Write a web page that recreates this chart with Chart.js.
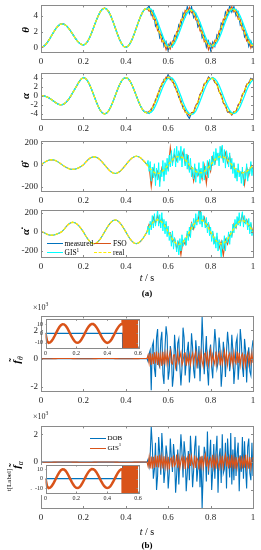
<!DOCTYPE html>
<html>
<head>
<meta charset="utf-8">
<script src="https://cdn.jsdelivr.net/npm/chart.js"></script>
<style>
  body { margin: 0; background: #fff; width: 261px; height: 550px; position: relative; overflow: hidden;
         font-family: "Liberation Serif", "DejaVu Serif", serif; color: #000; }
  canvas { position: absolute; left: 0; }
  .t { position: absolute; white-space: nowrap; line-height: 1; }
  .yl { transform: translate(-50%, -50%) rotate(-90deg); font-size: 11px; font-style: italic; }
  .c { transform: translate(-50%, -50%); }
  .lg { transform: translateY(-50%); font-size: 7.5px; }
  .ln { position: absolute; height: 0; }
  sub, sup { font-size: 70%; line-height: 0; }
</style>
</head>
<body>
<canvas id="p1"></canvas>
<canvas id="p2"></canvas>
<canvas id="p3"></canvas>
<canvas id="p4"></canvas>
<canvas id="p5"></canvas>
<canvas id="p6"></canvas>
<canvas id="p5i"></canvas>
<canvas id="p6i"></canvas>

<div class="t yl" style="left:25px;top:30px"><b>θ</b></div>
<div class="t yl" style="left:25px;top:96px"><b>α</b></div>
<div class="t yl" style="left:25px;top:165px"><b>θ̇</b></div>
<div class="t yl" style="left:25px;top:232px"><b>α̇</b></div>
<div class="t yl" style="left:16px;top:360px"><b>f̃</b><sub>θ</sub></div>
<div class="t yl" style="left:16px;top:465px"><b>f̃</b><sub>α</sub></div>
<div class="t yl" style="left:9px;top:480px;font-size:7px;font-style:normal">t[Label]</div>

<div class="ln" style="left:47px;top:243px;width:16px;border-top:1.4px solid #0072BD"></div>
<div class="t lg" style="left:64.5px;top:243.5px">measured</div>
<div class="ln" style="left:94px;top:243px;width:17px;border-top:1.4px solid #D95319"></div>
<div class="t lg" style="left:113px;top:243.5px">FSO</div>
<div class="ln" style="left:47px;top:252px;width:16px;border-top:1.4px solid #00FFFF"></div>
<div class="t lg" style="left:64.5px;top:252.5px">GIS<sup>1</sup></div>
<div class="ln" style="left:94px;top:252px;width:17px;border-top:1.4px dashed #FFEE00"></div>
<div class="t lg" style="left:113px;top:252.5px">real</div>

<div class="ln" style="left:90px;top:437.5px;width:16px;border-top:1.5px solid #0072BD"></div>
<div class="t lg" style="left:107.5px;top:438px;font-size:7px">DOB</div>
<div class="ln" style="left:90px;top:447.5px;width:16px;border-top:1.5px solid #D95319"></div>
<div class="t lg" style="left:107.5px;top:448px;font-size:7px">GIS<sup>1</sup></div>

<div class="t" style="left:33px;top:304px;font-size:8px;color:#262626">×10<sup>3</sup></div>
<div class="t" style="left:33px;top:413px;font-size:8px;color:#262626">×10<sup>3</sup></div>

<div class="t c" style="left:147px;top:278px;font-size:10px"><i>t</i> / s</div>
<div class="t c" style="left:147px;top:293px;font-size:9px"><b>(a)</b></div>
<div class="t c" style="left:147px;top:532px;font-size:10px"><i>t</i> / s</div>
<div class="t c" style="left:147px;top:545px;font-size:9px"><b>(b)</b></div>

<script>
// time axis, s (coarse over the whole run, fine over the noisy half)
const tGrid = [0,0.01,0.02,0.03,0.04,0.05,0.06,0.07,0.08,0.09,
  0.1,0.11,0.12,0.13,0.14,0.15,0.16,0.17,0.18,0.19,
  0.2,0.21,0.22,0.23,0.24,0.25,0.26,0.27,0.28,0.29,
  0.3,0.31,0.32,0.33,0.34,0.35,0.36,0.37,0.38,0.39,
  0.4,0.41,0.42,0.43,0.44,0.45,0.46,0.47,0.48,0.49,
  0.5,0.51,0.52,0.53,0.54,0.55,0.56,0.57,0.58,0.59,
  0.6,0.61,0.62,0.63,0.64,0.65,0.66,0.67,0.68,0.69,
  0.7,0.71,0.72,0.73,0.74,0.75,0.76,0.77,0.78,0.79,
  0.8,0.81,0.82,0.83,0.84,0.85,0.86,0.87,0.88,0.89,
  0.9,0.91,0.92,0.93,0.94,0.95,0.96,0.97,0.98,0.99,1];
const tFine = [0.5,0.505,0.51,0.515,0.52,0.525,0.53,0.535,0.54,0.545,
  0.55,0.555,0.56,0.565,0.57,0.575,0.58,0.585,0.59,0.595,
  0.6,0.605,0.61,0.615,0.62,0.625,0.63,0.635,0.64,0.645,
  0.65,0.655,0.66,0.665,0.67,0.675,0.68,0.685,0.69,0.695,
  0.7,0.705,0.71,0.715,0.72,0.725,0.73,0.735,0.74,0.745,
  0.75,0.755,0.76,0.765,0.77,0.775,0.78,0.785,0.79,0.795,
  0.8,0.805,0.81,0.815,0.82,0.825,0.83,0.835,0.84,0.845,
  0.85,0.855,0.86,0.865,0.87,0.875,0.88,0.885,0.89,0.895,
  0.9,0.905,0.91,0.915,0.92,0.925,0.93,0.935,0.94,0.945,
  0.95,0.955,0.96,0.965,0.97,0.975,0.98,0.985,0.99,0.995,1];

const xTicks = [0, 0.2, 0.4, 0.6, 0.8, 1];
const xTickText = ['0', '0.2', '0.4', '0.6', '0.8', '1'];
const insetXTicks = [0, 0.2, 0.4, 0.6];
const insetXText = ['0', '0.2', '0.4', '0.6'];

// theta, 0..0.49 (all curves coincide) and 0.5..1
const thetaHead = [0,0.07,0.29,0.62,1.04,1.5,1.96,2.38,2.71,2.93,
  3,2.93,2.74,2.44,2.07,1.65,1.23,0.86,0.56,0.37,
  0.3,0.41,0.75,1.27,1.92,2.65,3.38,4.03,4.55,4.89,
  5,4.88,4.52,3.97,3.27,2.5,1.73,1.03,0.48,0.12,
  0,0.12,0.48,1.03,1.73,2.5,3.27,3.97,4.52,4.88];
const thetaReal = [5,4.88,4.52,3.97,3.27,2.5,1.73,1.03,0.48,0.12,0.02,
  0.13,0.48,1.02,1.7,2.45,3.2,3.87,4.4,4.72,4.82,
  4.7,4.37,3.85,3.2,2.47,1.73,1.07,0.55,0.22,0.1,
  0.22,0.57,1.12,1.8,2.55,3.3,3.97,4.5,4.83,4.95,
  4.83,4.5,3.98,3.3,2.57,1.83,1.15,0.62,0.3,0.2];
const thetaMeas = [4.9,5.3,4.1,4.6,2.7,3.1,1.2,1.6,0.1,0.7,-0.5,
  0.6,0.1,1.5,1.2,2.9,2.7,4.4,3.9,5.2,4.3,
  5.2,3.8,4.3,2.6,3.0,1.2,1.6,0.0,0.8,-0.4,
  0.7,0.1,1.6,1.3,3.1,2.8,4.5,4.0,5.3,4.5,
  5.2,4.0,4.5,2.8,3.1,1.3,1.7,0.1,0.8,-0.1];
const thetaFso = [5.0,4.6,4.8,3.6,3.6,2.1,2.0,0.7,0.8,-0.3,0.4,
  -0.2,0.8,0.7,2.0,2.1,3.5,3.5,4.7,4.4,5.1,
  4.4,4.7,3.5,3.5,2.1,2.1,0.7,0.9,-0.3,0.5,
  -0.1,0.9,0.8,2.1,2.2,3.6,3.6,4.8,4.5,5.2,
  4.5,4.8,3.6,3.6,2.2,2.2,0.8,1.0,-0.1,0.5];
const thetaGis = [4.95,4.97,4.85,4.5,3.95,3.25,2.5,1.75,1.05,0.5,0.15,
  0.05,0.15,0.5,1.05,1.72,2.47,3.2,3.88,4.4,4.72,
  4.8,4.68,4.35,3.83,3.2,2.47,1.73,1.07,0.55,0.23,
  0.12,0.24,0.58,1.13,1.8,2.55,3.3,3.97,4.5,4.83,
  4.93,4.82,4.48,3.97,3.3,2.57,1.83,1.15,0.63,0.32];

// alpha
const alphaHead = [0,-0.03,-0.12,-0.3,-0.55,-0.85,-1.2,-1.55,-1.82,-1.97,
  -1.95,-1.75,-1.35,-0.8,-0.1,0.7,1.5,2.3,3.1,3.7,
  4,3.8,3.24,2.35,1.24,0,-1.24,-2.35,-3.24,-3.8,
  -4,-3.8,-3.24,-2.35,-1.24,0,1.24,2.35,3.24,3.8,
  3.95,3.8,3.22,2.3,1.15,-0.05,-1.25,-2.3,-3.1,-3.6];
const alphaReal = [-3.8,-3.62,-3.1,-2.22,-1.1,0.15,1.35,2.45,3.3,3.85,4.05,
  3.85,3.25,2.3,1.1,-0.1,-1.35,-2.5,-3.4,-3.95,-4.15,
  -3.95,-3.4,-2.45,-1.25,0,1.25,2.35,3.2,3.75,3.95,
  3.75,3.2,2.3,1.15,-0.1,-1.3,-2.4,-3.25,-3.8,-3.95,
  -3.75,-3.2,-2.3,-1.2,0,1.2,2.25,3.0,3.5,3.7];
const alphaMeas = [-3.6,-3.9,-2.8,-2.5,-0.8,-0.2,1.7,2.2,3.6,3.6,4.7,
  3.5,3.6,2.0,1.4,-0.4,-1.0,-2.8,-3.1,-4.3,-5.0,
  -3.7,-3.7,-2.1,-1.6,0.3,1.0,2.6,2.9,4.1,3.7,
  4.0,2.9,2.6,0.9,0.2,-1.6,-2.1,-3.6,-3.5,-4.2,
  -3.5,-3.5,-2.0,-1.5,0.3,0.9,2.5,2.8,3.8,3.5];
const alphaFso = [-3.8,-3.4,-3.3,-2.0,-1.3,0.4,1.1,2.7,3.1,4.1,3.8,
  4.1,3.0,2.6,0.9,0.2,-1.6,-2.2,-3.6,-3.7,-4.4,
  -3.7,-3.6,-2.2,-1.5,0.3,1.0,2.6,3.0,4.0,3.7,
  3.9,3.0,2.5,0.9,0.2,-1.5,-2.2,-3.5,-3.6,-4.2,
  -3.5,-3.4,-2.1,-1.4,0.3,1.0,2.5,2.8,3.7,3.6];
const alphaGis = [-3.7,-3.78,-3.6,-3.08,-2.2,-1.08,0.17,1.37,2.45,3.3,3.85,
  4.03,3.83,3.23,2.28,1.08,-0.12,-1.37,-2.5,-3.4,-3.93,
  -4.12,-3.93,-3.38,-2.43,-1.23,0.02,1.25,2.35,3.2,3.73,
  3.93,3.73,3.18,2.28,1.13,-0.12,-1.3,-2.4,-3.23,-3.78,
  -3.93,-3.73,-3.18,-2.28,-1.18,0.02,1.2,2.23,2.98,3.48];

// theta dot
const dthetaHead = [0,14,27,38,45,47,45,38,27,14,
  0,-13,-25,-34,-40,-42,-40,-34,-25,-13,
  0,23,43,60,70,74,70,60,43,23,
  0,-24,-46,-64,-75,-79,-75,-64,-46,-24,
  0,24,46,64,75,79,75,64,46,24];
const dthetaReal = [0,-24,-46,-64,-75,-79,-75,-64,-46,-24,0,
  24,46,63,73,76,73,63,46,24,0,
  -23,-44,-61,-71,-74,-71,-61,-44,-23,0,
  24,46,63,73,75,72,62,45,23,0,
  -23,-44,-60,-70,-73,-70,-60,-44,-23,-2];
const dthetaGis = [0,40,-60,30,-150,-20,-120,10,-190,-30,
  -140,20,-200,-50,-110,40,-150,20,-90,60,
  -60,90,-20,130,-10,80,150,-20,170,20,
  130,40,170,-20,110,150,-10,100,-40,90,
  -70,60,-110,-20,-130,10,-160,-40,-100,20,
  -170,-30,-120,30,-140,-10,-90,40,-120,50,
  -50,80,-10,120,0,150,40,110,-10,170,
  60,180,20,140,-30,130,70,-20,110,-40,
  60,-80,20,-120,-30,-150,10,-110,-60,-170,
  -20,-190,-60,-130,10,-150,-40,-80,30,-100,-20];
const dthetaFso = [0,-10,-200,-40,-110,-60,-150,-30,-90,0,-40,
  160,20,90,40,110,60,120,10,80,-50,
  -20,-150,-40,-100,-50,-130,-10,-170,10,-60,
  70,10,100,60,150,40,110,20,80,-30,
  0,-110,-40,-90,-60,-180,-20,-100,0,-40];

// alpha dot
const dalphaHead = [0,-5,-15,-26,-33,-35,-33,-27,-18,-8,
  5,30,58,80,95,100,95,81,59,31,
  0,-38,-73,-100,-118,-124,-118,-100,-73,-38,
  0,38,73,100,118,124,118,100,73,38,
  0,-38,-73,-100,-118,-122,-116,-98,-71,-37];
const dalphaReal = [0,39,75,102,120,126,120,102,75,39,0,
  -40,-77,-105,-124,-130,-124,-105,-77,-40,0,
  39,75,102,120,125,120,102,75,39,0,
  -39,-75,-102,-120,-125,-120,-102,-75,-39,0,
  37,71,97,114,118,112,95,70,37,0];
const dalphaGis = [0,60,-30,110,20,170,40,190,60,140,
  230,60,180,40,200,10,130,-20,110,-50,
  60,-90,-10,-150,10,-180,-60,-120,-210,-90,
  -240,-70,-200,-30,-150,-90,-60,-140,10,-90,
  50,-60,90,20,140,40,190,70,160,230,
  80,210,50,170,120,40,150,-10,100,-40,
  50,-100,10,-130,-50,-170,-10,-200,-80,-150,
  -260,-90,-180,-40,-200,-60,-110,0,-130,10,
  -60,80,-10,130,40,160,70,200,60,150,
  210,50,170,80,130,20,140,-20,100,-40,20];
const dalphaFso = [0,80,60,150,90,170,100,140,70,80,-20,
  -10,-100,-70,-170,-110,-240,-90,-130,-20,-40,
  90,30,130,110,240,90,150,60,90,-20,
  -10,-110,-60,-170,-100,-250,-80,-130,-30,-40,
  80,40,140,90,180,100,130,60,80,-10];

// disturbance estimates (0..0.49, then fine 0.5..1)
const dobHead = [0,0,0,0,0,0,0,0,0,0, 0,0,0,0,0,0,0,0,0,0,
  0,0,0,0,0,0,0,0,0,0, 0,0,0,0,0,0,0,0,0,0, 0,0,0,0,0,0,0,0,0,0];
const gisHead = [0,-8,-10,-9.5,-8,-5.5,-2.5,0.8,4,6.8,
  8.8,9.8,9.6,8.3,6,3,-0.3,-3.5,-6.3,-8.5,
  -9.8,-10,-9.2,-7.3,-4.6,-1.5,1.8,4.8,7.3,9.1,
  10,9.9,8.8,6.7,4,0.8,-2.4,-5.4,-7.8,-9.4,
  -10,-9.6,-8.2,-5.9,-3,0.2,3.4,6.2,8.4,9.7];
const dobTheta = [0,-200,350,600,-2250,900,1200,-700,-1300,1500,
  2100,-400,-600,1300,1900,-1100,-1800,800,2300,1600,
  -1500,-900,900,400,-2000,-1200,1700,500,-900,1100,
  1400,-600,-1900,-700,2200,1500,-1200,-300,600,1200,
  -1700,-500,1800,800,-800,-1400,1300,400,-700,900,
  -1600,200,2950,1000,-1100,300,1600,-800,-1900,500,
  1000,-600,-1400,700,2100,1100,-700,-300,1500,600,
  -2000,-900,1200,300,-1300,500,1900,1000,-900,-200,
  1700,600,-1800,-700,1100,1500,-1500,-400,2100,1200,
  -600,-1300,1400,600,-1700,200,800,-900,-1200,700,1300];
const gisTheta = [10,250,-300,400,-450,350,-380,450,-350,500,
  -450,420,-380,300,-520,480,-420,380,-300,420,
  -300,200,550,-300,-380,250,280,-600,-200,480,
  -250,100,420,-450,-200,350,400,-500,150,-300,
  260,-420,100,380,-300,200,520,-480,-100,300,
  -380,450,-200,-550,300,400,-280,350,-450,100,
  600,-320,280,-100,-400,500,-350,200,420,-480,
  300,-380,100,550,-260,340,-450,200,380,-300,
  250,-400,450,-200,-350,500,-300,420,-450,200,
  350,-420,300,-500,150,400,-380,250,-300,380,-300];
const dobAlpha = [0,200,-300,500,2550,1200,-1200,-500,1400,-2000,
  -1000,1800,600,-900,2100,700,-1500,-600,1200,500,
  -1900,-800,1700,300,-700,1300,400,-2200,-900,900,
  -1600,300,2000,700,-1100,1500,600,-2100,-800,800,
  -1300,1900,500,-1800,-600,1100,1900,-1400,-500,1200,
  -1800,400,-3300,-800,1100,600,-1400,2200,-900,300,
  1600,-2000,-600,1300,-1200,700,1900,-2200,400,1000,
  -1500,2000,-800,-500,1400,-1900,1700,300,-1100,2100,
  -1600,900,-1300,1800,-1000,600,1400,-2100,500,-700,
  1800,-1200,1500,-400,-1900,1100,1700,-800,-1300,1400,-1000];
const gisAlpha = [10,-300,350,-450,400,-480,380,-420,500,-360,
  450,-380,520,-300,380,-450,420,-350,300,-400,
  380,-520,200,300,-380,480,-260,-100,550,-400,
  320,-450,100,380,-300,420,-500,200,350,-450,
  600,-280,400,-100,-350,480,-420,300,150,-520,
  380,-300,450,-380,200,550,-320,400,-450,100,
  280,-400,520,-350,300,-480,360,-100,-420,350,
  -300,450,-380,200,550,-320,400,-450,280,-400,
  520,-350,300,-480,360,-420,150,350,-300,420,
  -450,280,-400,520,-350,300,-480,360,-420,200,350];

const C_MEAS = '#0072BD', C_FSO = '#D95319', C_GIS = '#00FFFF', C_REAL = '#FFEE00';

Chart.defaults.font.family = '"Liberation Serif", "DejaVu Serif", serif';
Chart.defaults.color = '#262626';
Chart.defaults.animation = false;

function pts(head, tail) {
  const xs = tail.length === tFine.length ? tGrid.slice(0, head.length).concat(tFine) : tGrid;
  const ys = head.concat(tail);
  return xs.map((t, i) => ({ x: t, y: ys[i] }));
}

function line(label, data, color, w, dash) {
  return { label, data, borderColor: color, borderWidth: w, borderDash: dash || [], fill: false, pointRadius: 0 };
}

// box outline with inward ticks, optional white background
const frame = {
  id: 'frame',
  beforeDraw(chart, args, o) {
    if (!o.white) return;
    const { ctx, chartArea: a } = chart;
    ctx.save();
    ctx.fillStyle = '#fff';
    ctx.fillRect(a.left - (o.coverLeft || 0), a.top, a.width + (o.coverLeft || 0), a.height + (o.coverBottom || 0));
    ctx.restore();
  },
  afterDatasetsDraw(chart, args, o) {
    const { ctx, chartArea: a, scales } = chart;
    const tl = o.tick || 2;
    ctx.save();
    ctx.strokeStyle = o.color || '#8a8a8a';
    ctx.lineWidth = 1;
    ctx.strokeRect(Math.round(a.left) + 0.5, Math.round(a.top) + 0.5, Math.round(a.width), Math.round(a.height));
    ctx.beginPath();
    scales.x.ticks.forEach(t => {
      const x = Math.round(scales.x.getPixelForValue(t.value)) + 0.5;
      ctx.moveTo(x, a.bottom); ctx.lineTo(x, a.bottom - tl);
      ctx.moveTo(x, a.top); ctx.lineTo(x, a.top + tl);
    });
    scales.y.ticks.forEach(t => {
      const y = Math.round(scales.y.getPixelForValue(t.value)) + 0.5;
      ctx.moveTo(a.left, y); ctx.lineTo(a.left + tl, y);
      ctx.moveTo(a.right, y); ctx.lineTo(a.right - tl, y);
    });
    ctx.stroke();
    ctx.restore();
  }
};

function panel(id, box, cfg) {
  const c = document.getElementById(id);
  const padTop = 8;
  const top = Math.round(box.t) - padTop;
  const xh = cfg.xh || 16;
  c.width = 261;
  c.height = Math.round(box.b - top + xh);
  c.style.top = top + 'px';
  const fs = cfg.fs || 9;
  new Chart(c, {
    type: 'line',
    data: { datasets: cfg.datasets },
    options: {
      responsive: false,
      layout: { padding: { top: box.t - top, right: 261 - box.r, left: 0, bottom: 0 } },
      plugins: { legend: { display: false }, tooltip: { enabled: false }, frame: cfg.frame || {} },
      elements: { point: { radius: 0 }, line: { tension: 0 } },
      scales: {
        x: {
          type: 'linear', min: 0, max: cfg.xMax || 1,
          grid: { display: false, drawTicks: false }, border: { display: false },
          afterBuildTicks: s => { s.ticks = cfg.xTicks.map(v => ({ value: v })); },
          afterFit: s => { s.height = xh; },
          ticks: { autoSkip: false, maxRotation: 0, padding: cfg.xPad || 4, font: { size: fs },
                   callback: (v, i) => cfg.xText[i] }
        },
        y: {
          min: cfg.yMin, max: cfg.yMax,
          grid: { display: false, drawTicks: false }, border: { display: false },
          afterBuildTicks: s => { s.ticks = cfg.yTicks.map(v => ({ value: v })); },
          afterFit: s => { s.width = box.l; },
          ticks: { autoSkip: false, padding: cfg.yPad || 3, font: { size: fs },
                   callback: (v, i) => cfg.yText[i] }
        }
      }
    },
    plugins: [frame]
  });
}

const mainBox = (t, b) => ({ l: 41, r: 253, t, b });

// (a) states
panel('p1', mainBox(5, 52), {
  yMin: -0.6, yMax: 5.35, yTicks: [0, 2, 4], yText: ['0', '2', '4'], xTicks, xText: xTickText,
  datasets: [
    line('real', pts(thetaHead, thetaReal), C_REAL, 1.3, [3, 2]),
    line('GIS1', pts(thetaHead, thetaGis), C_GIS, 1.3),
    line('FSO', pts(thetaHead, thetaFso), C_FSO, 1.1),
    line('measured', pts(thetaHead, thetaMeas), C_MEAS, 1.1)
  ]
});
panel('p2', mainBox(72.5, 118.5), {
  yMin: -5.1, yMax: 4.9, yTicks: [-4, -2, 0, 2, 4], yText: ['-4', '-2', '0', '2', '4'], xTicks, xText: xTickText,
  datasets: [
    line('real', pts(alphaHead, alphaReal), C_REAL, 1.3, [3, 2]),
    line('GIS1', pts(alphaHead, alphaGis), C_GIS, 1.3),
    line('FSO', pts(alphaHead, alphaFso), C_FSO, 1.1),
    line('measured', pts(alphaHead, alphaMeas), C_MEAS, 1.1)
  ]
});
panel('p3', mainBox(140.5, 191), {
  yMin: -240, yMax: 215, yTicks: [-200, 0, 200], yText: ['-200', '0', '200'], xTicks, xText: xTickText,
  datasets: [
    line('real', pts(dthetaHead, dthetaReal), C_REAL, 1.3, [3, 2]),
    line('GIS1', pts(dthetaHead, dthetaGis), C_GIS, 1),
    line('FSO', pts(dthetaHead, dthetaFso), C_FSO, 1.1)
  ]
});
panel('p4', mainBox(210, 256.7), {
  yMin: -262, yMax: 224, yTicks: [-200, 0, 200], yText: ['-200', '0', '200'], xTicks, xText: xTickText,
  datasets: [
    line('real', pts(dalphaHead, dalphaReal), C_REAL, 1.3, [3, 2]),
    line('GIS1', pts(dalphaHead, dalphaGis), C_GIS, 1),
    line('FSO', pts(dalphaHead, dalphaFso), C_FSO, 1.1)
  ]
});

// (b) disturbance estimates
panel('p5', mainBox(315.5, 390.5), {
  yMin: -2300, yMax: 3000, yTicks: [-2000, 0, 2000], yText: ['-2', '0', '2'], xTicks, xText: xTickText,
  datasets: [
    line('GIS1', pts(gisHead, gisTheta), C_FSO, 1.1),
    line('DOB', pts(dobHead, dobTheta), C_MEAS, 1.1)
  ]
});
panel('p6', mainBox(426, 508), {
  yMin: -3300, yMax: 2570, yTicks: [-2000, 0, 2000], yText: ['-2', '0', '2'], xTicks, xText: xTickText,
  datasets: [
    line('GIS1', pts(gisHead, gisAlpha), C_FSO, 1.1),
    line('DOB', pts(dobHead, dobAlpha), C_MEAS, 1.1)
  ]
});

// insets
panel('p5i', { l: 45.5, r: 138, t: 319.3, b: 348 }, {
  fs: 6, xh: 9, xPad: 1.5, yPad: 2.5, xMax: 0.6,
  yMin: -15.5, yMax: 15, yTicks: [-10, 0, 10], yText: ['-10', '0', '10'], xTicks: insetXTicks, xText: insetXText,
  frame: { white: true, tick: 1.5 },
  datasets: [
    line('GIS1', pts(gisHead, gisTheta), C_FSO, 2.5),
    line('DOB', pts(dobHead, dobTheta), C_MEAS, 1.3)
  ]
});
panel('p6i', { l: 45.5, r: 138, t: 465, b: 492.5 }, {
  fs: 6, xh: 9, xPad: 1.5, yPad: 2.5, xMax: 0.6,
  yMin: -15.2, yMax: 14.3, yTicks: [-10, 0, 10], yText: ['-10', '0', '10'], xTicks: insetXTicks, xText: insetXText,
  frame: { white: true, tick: 1.5, coverLeft: 14, coverBottom: 2 },
  datasets: [
    line('GIS1', pts(gisHead, gisAlpha), C_FSO, 2.5),
    line('DOB', pts(dobHead, dobAlpha), C_MEAS, 1.3)
  ]
});
</script>
</body>
</html>
